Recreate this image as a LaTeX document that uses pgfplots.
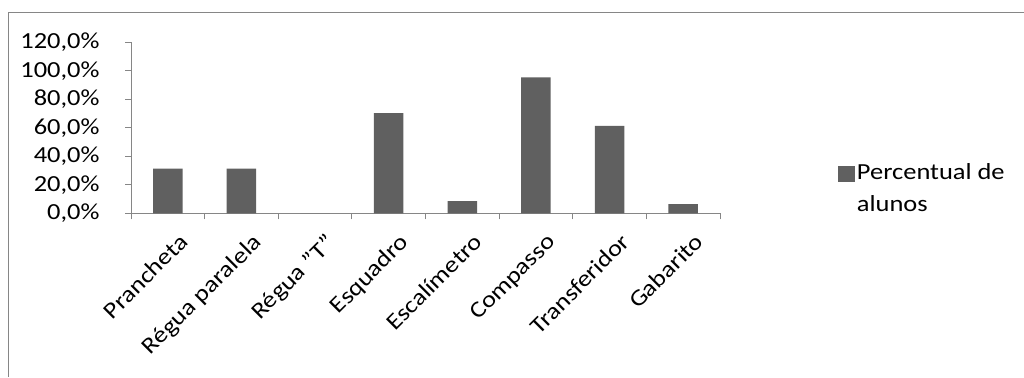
\documentclass[border=0pt]{standalone}
\usepackage{pgfplots}
\pgfplotsset{compat=1.18}
\usepackage{fontspec}
\setmainfont{Carlito}[FakeStretch=1.15]
\definecolor{barfill}{HTML}{606060}
\definecolor{axisgray}{HTML}{868686}
\begin{document}
\begin{tikzpicture}[x=1bp,y=1bp]
\useasboundingbox (0,0) rectangle (1024,377);
% outer chart frame
\draw[axisgray, line width=1.2bp] (8.5,0) -- (8.5,364.5) -- (1024,364.5);
\begin{axis}[
  at={(131bp,163.7bp)}, anchor=south west,
  scale only axis, width=589bp, height=171bp,
  font=\fontsize{23bp}{27bp}\selectfont,
  ybar, bar width=0.4,
  xmin=-0.5, xmax=7.5, ymin=0, ymax=120,
  axis x line*=bottom, axis y line*=left,
  axis line style={axisgray, line width=1bp},
  every axis plot/.append style={draw=none},
  tick style={axisgray, line width=1bp},
  tick align=outside,
  xtick={0,...,7},
  major x tick style={draw=none},
  minor xtick={-0.5,0.5,...,7.5},
  minor tick length=6bp,
  major tick length=6bp,
  xticklabels={Prancheta, Régua paralela, Régua "T", Esquadro, Escalímetro, Compasso, Transferidor, Gabarito},
  xticklabel style={rotate=45, anchor=north east, inner sep=0pt, xshift=-2bp, yshift=-16bp},
  ytick={0,20,...,120},
  yticklabels={{0,0\%},{20,0\%},{40,0\%},{60,0\%},{80,0\%},{100,0\%},{120,0\%}},
  yticklabel style={anchor=east, xshift=-22bp},
  legend style={at={(rel axis cs:1.2,0.322)}, anchor=north west, draw=none, fill=none,
    inner sep=0pt, font=\fontsize{23bp}{27bp}\selectfont},
  legend cell align=left,
  legend image code/.code={\fill[barfill] (0bp,-11bp) rectangle (17bp,5bp);},
]
\addplot[fill=barfill] coordinates {
  (0,31.3) (1,31.3) (2,0) (3,70.3) (4,8.6) (5,95.3) (6,61.3) (7,6.5)
};
\addlegendentry{\begin{tabular}[t]{@{}l@{}}Percentual de\\[5bp]alunos\end{tabular}}
\end{axis}
\end{tikzpicture}
\end{document}
